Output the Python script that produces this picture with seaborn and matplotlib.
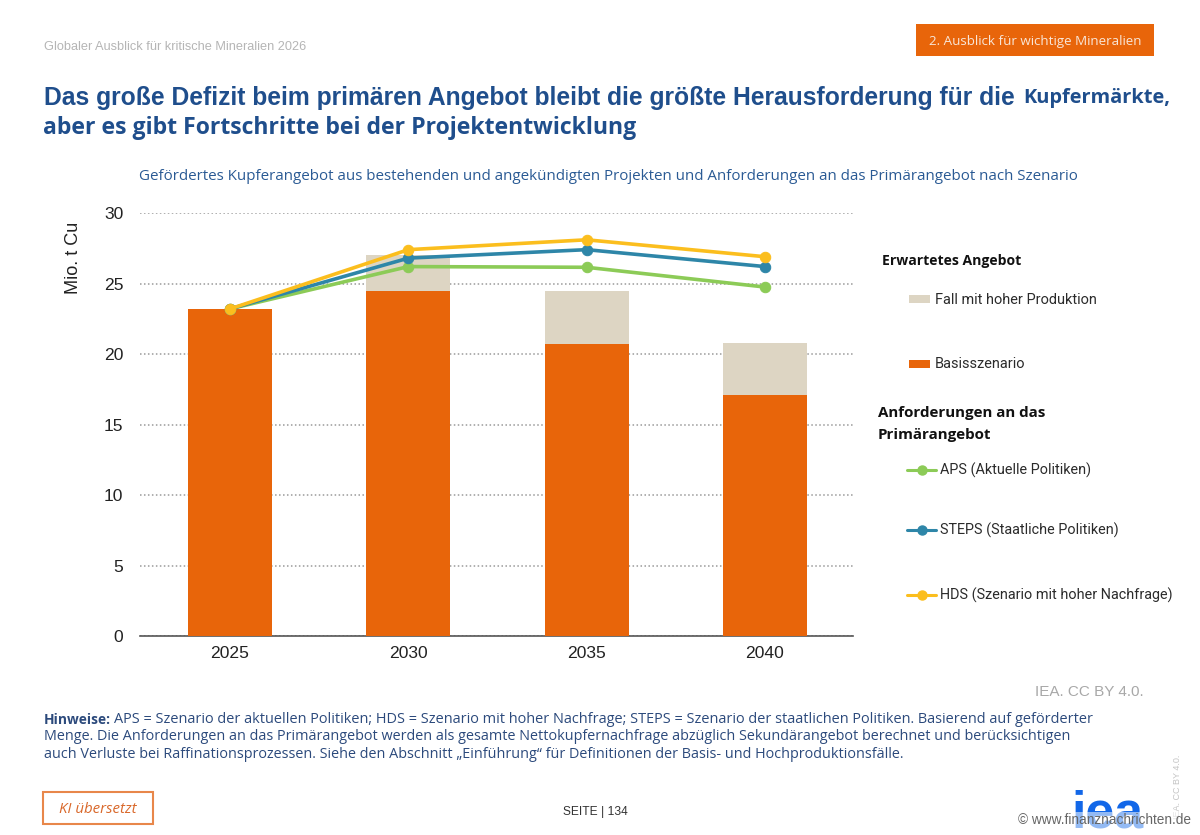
import matplotlib
matplotlib.use("Agg")
import matplotlib.pyplot as plt
import matplotlib.patches as mpatches
from matplotlib.lines import Line2D
import seaborn as sns
import pandas as pd

years = ["2025", "2030", "2035", "2040"]
base_case = [23.2, 24.5, 20.7, 17.1]
high_case_total = [23.2, 27.0, 24.5, 20.8]
aps = [23.2, 26.2, 26.15, 24.75]
steps = [23.2, 26.8, 27.4, 26.2]
hds = [23.2, 27.4, 28.1, 26.9]
y_ticks = [0, 5, 10, 15, 20, 25, 30]

ORANGE = "#E8650A"
BEIGE = "#DDD5C3"
GREEN = "#8CCB57"
TEAL = "#2E86A8"
YELLOW = "#FBBE1E"
NAVY = "#1F4E8C"

sns.set_theme(style="white")
plt.rcParams["font.family"] = ["Liberation Sans", "DejaVu Sans"]

W, H = 1200, 835
fig = plt.figure(figsize=(W / 100, H / 100), dpi=100, facecolor="white")
ax = fig.add_axes([140 / W, 1 - 636 / H, (853 - 140) / W, (636 - 213) / H])

def T(x, y, s, px, **kw):
    kw.setdefault("va", "center")
    kw.setdefault("ha", "left")
    return fig.text(x / W, 1 - (y + 1.5) / H, s, fontsize=px * 0.72, **kw)

df = pd.DataFrame({"Jahr": years, "Basis": base_case, "Hoch": high_case_total})
sns.barplot(data=df, x="Jahr", y="Hoch", color=BEIGE, saturation=1, width=0.47, linewidth=0, ax=ax, zorder=2)
sns.barplot(data=df, x="Jahr", y="Basis", color=ORANGE, saturation=1, width=0.47, linewidth=0, ax=ax, zorder=3)

for vals, col, z in [(aps, GREEN, 5), (steps, TEAL, 6), (hds, YELLOW, 7)]:
    sns.lineplot(x=years, y=vals, color=col, linewidth=2.6, marker="o", markersize=7.5,
                 markeredgecolor=col, sort=False, errorbar=None, ax=ax, zorder=z, clip_on=False)

ax.set_xlim(-0.505, 3.494)
ax.set_ylim(0, 30)
ax.set_yticks(y_ticks)
ax.set_xlabel("")
ax.set_ylabel("")
ax.grid(axis="y", color="#9a9a9a", linestyle=(0, (1, 1.6)), linewidth=1.1)
ax.set_axisbelow(True)
for s in ["top", "right", "left"]:
    ax.spines[s].set_visible(False)
ax.spines["bottom"].set_color("#555555")
ax.spines["bottom"].set_linewidth(1.2)
ax.tick_params(axis="both", length=0, labelsize=12.6, labelcolor="#222222")
ax.tick_params(axis="x", pad=7)
ax.tick_params(axis="y", pad=12)
T(73, 256, "Mio. t Cu", 18.2, rotation=90, ha="center", color="#222222")

# Header
T(44, 45, "Globaler Ausblick für kritische Mineralien 2026", 12.7, color="#b5b5b5")
fig.patches.append(mpatches.Rectangle((916 / W, 1 - 56 / H), 238 / W, 32 / H, transform=fig.transFigure,
                                      facecolor=ORANGE, edgecolor="none"))
T(1035, 40, "2. Ausblick für wichtige Mineralien", 13.4, color="#f8e6d8", ha="center", family="Open Sans")
T(44, 96, "Das große Defizit beim primären Angebot bleibt die größte Herausforderung für die", 24.6,
  color=NAVY, weight="bold")
T(1023, 96, "Kupfermärkte,", 20, color=NAVY, weight="bold", family="Open Sans")
T(43, 127, "aber es gibt Fortschritte bei der Projektentwicklung", 23, color=NAVY, weight="bold", family="Open Sans")
T(139, 175, "Gefördertes Kupferangebot aus bestehenden und angekündigten Projekten und Anforderungen an das Primärangebot nach Szenario",
  15.15, color="#2a5a94", family="Open Sans")

# Legend
LC = "#2b2b2b"
T(882, 260, "Erwartetes Angebot", 14, color="#111111", weight="bold", family="Open Sans")
for y, col, lab in [(299, BEIGE, "Fall mit hoher Produktion"), (364, ORANGE, "Basisszenario")]:
    fig.patches.append(mpatches.Rectangle((909 / W, 1 - (y + 4) / H), 21 / W, 8 / H, transform=fig.transFigure,
                                          facecolor=col, edgecolor="none"))
    T(935, y - 1, lab, 14.5, color=LC, family="Roboto")
T(878, 411, "Anforderungen an das", 15.1, color="#111111", weight="bold", family="Open Sans")
T(878, 434, "Primärangebot", 15.1, color="#111111", weight="bold", family="Open Sans")
for y, col, lab in [(470, GREEN, "APS (Aktuelle Politiken)"), (530, TEAL, "STEPS (Staatliche Politiken)"),
                    (595, YELLOW, "HDS (Szenario mit hoher Nachfrage)")]:
    fig.add_artist(Line2D([907 / W, 936 / W], [1 - y / H] * 2, color=col, linewidth=2.2, marker=None,
                          transform=fig.transFigure))
    fig.add_artist(Line2D([921.5 / W], [1 - y / H], color=col, marker="o", markersize=6.5,
                          transform=fig.transFigure))
    T(940, y - 1, lab, 14.35, color=LC, family="Roboto")

T(1035, 690, "IEA. CC BY 4.0.", 15.2, color="#a8a8a8")

# Notes
NC = "#2c4a7c"
T(44, 718, "Hinweise:", 13.8, color=NC, weight="bold", family="Open Sans")
T(114, 718, "APS = Szenario der aktuellen Politiken; HDS = Szenario mit hoher Nachfrage; STEPS = Szenario der staatlichen Politiken. Basierend auf geförderter",
  14.55, color=NC, family="Open Sans")
T(44, 735, "Menge. Die Anforderungen an das Primärangebot werden als gesamte Nettokupfernachfrage abzüglich Sekundärangebot berechnet und berücksichtigen",
  14.45, color=NC, family="Open Sans")
T(44, 753, "auch Verluste bei Raffinationsprozessen. Siehe den Abschnitt „Einführung“ für Definitionen der Basis- und Hochproduktionsfälle.",
  14.45, color=NC, family="Open Sans")

# Footer
fig.patches.append(mpatches.Rectangle((43 / W, 1 - 824 / H), 110 / W, 32 / H, transform=fig.transFigure,
                                      facecolor="white", edgecolor="#E8874A", linewidth=1.5))
T(98, 808, "KI übersetzt", 15, color="#D9682A", ha="center", family="Open Sans", style="italic")
T(595, 811, "SEITE | 134", 12, color="#333333", ha="center")
T(1107, 813, "iea", 52, color="#1267E8", weight="bold", ha="center")
T(1178, 785, "IEA. CC BY 4.0.", 9, color="#c4c4c4", rotation=90, ha="center")
T(1018, 819, "© www.finanznachrichten.de", 13.6, color="#666666",
  bbox=dict(facecolor="white", alpha=0.55, edgecolor="none", pad=1), zorder=5)

fig.savefig("out.png", dpi=100)
